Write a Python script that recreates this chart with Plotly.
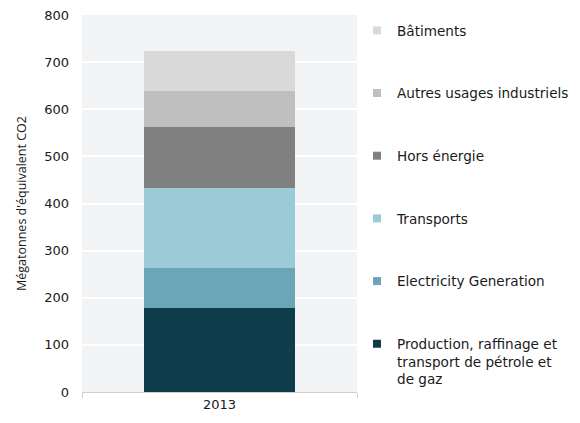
import plotly.graph_objects as go

categories = ["2013"]
series_names = [
    "Production, raffinage et<br>transport de pétrole et<br>de gaz",
    "Electricity Generation",
    "Transports",
    "Hors énergie",
    "Autres usages industriels",
    "Bâtiments",
]
series_values = [
    [179],
    [85],
    [169],
    [129],
    [76],
    [86],
]
colors = ["#0f3d4c", "#6ba5b8", "#9ccbd8", "#808080", "#c0bfbf", "#d9d9d9"]
y_ticks = [0, 100, 200, 300, 400, 500, 600, 700, 800]

FONT = "DejaVu Sans"

fig = go.Figure()
for name, vals, col in zip(series_names, series_values, colors):
    fig.add_trace(go.Bar(
        x=categories, y=vals, name=name,
        marker=dict(color=col, line=dict(width=0)),
        width=0.55, showlegend=False,
    ))
# legend entries (top of stack first) with small square markers
for name, col in zip(series_names[::-1], colors[::-1]):
    fig.add_trace(go.Scatter(
        x=[None], y=[None], mode="markers", name=name,
        marker=dict(symbol="square", size=8, color=col),
        legendgroup=name,
    ))

# page body has an 8px default margin: figure is sized to fit the window
fig.update_layout(
    width=572, height=415,
    barmode="stack",
    paper_bgcolor="white",
    plot_bgcolor="#f2f3f5",
    margin=dict(l=74, r=223, t=7, b=31, autoexpand=False),
    font=dict(family=FONT, size=13, color="#1a1a1a"),
    legend=dict(
        x=1.0, xanchor="left", y=1.0, yanchor="top",
        traceorder="grouped", tracegroupgap=42,
        itemwidth=30, valign="top",
        font=dict(family=FONT, size=13.6, color="#1a1a1a"),
        bgcolor="rgba(0,0,0,0)",
    ),
    showlegend=True,
)
fig.update_xaxes(
    type="category", tickson="boundaries", ticks="outside",
    ticklen=5, tickcolor="#d0d0d0", showline=True, linecolor="#d0d0d0",
    linewidth=1, showgrid=False, range=[-0.5, 0.5], automargin=False,
)
fig.update_yaxes(
    range=[0, 800], tickvals=y_ticks, showgrid=True, gridcolor="white",
    gridwidth=2, zeroline=False, showline=False, ticks="",
    ticklabelstandoff=12, automargin=False, ticklabeloverflow="allow",
    title=dict(text="Mégatonnes d'équivalent CO2", standoff=14,
               font=dict(family="Open Sans", size=12.5, color="#1a1a1a")),
)

fig.write_html("out.html")
